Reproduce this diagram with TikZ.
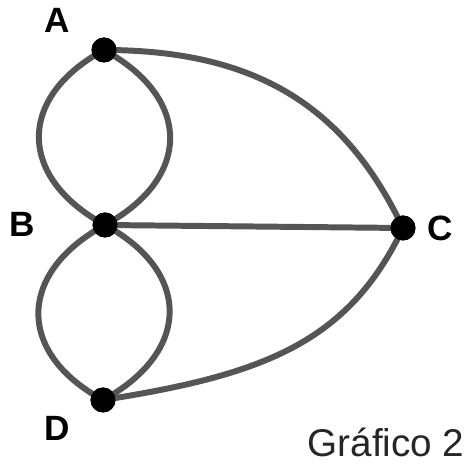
\documentclass[tikz,border=0pt]{standalone}
\usepackage{fontspec}
\setmainfont{Liberation Sans}
\usepackage{tikz}
\usepackage{xcolor}
\definecolor{edgegray}{HTML}{555555}

\begin{document}
\begin{tikzpicture}
\tikzset{
  vert/.style={circle,fill=black,inner sep=0pt,minimum size=0.5cm},
  lbl/.style={font=\fontsize{20}{24}\selectfont\bfseries},
  edge/.style={draw=edgegray,line width=3.4pt}
}
\useasboundingbox (0,0) rectangle (9.4,9.32);

\node[vert] (A) at (2.08,8.32) {};
\node[vert] (B) at (2.1,4.82) {};
\node[vert] (C) at (8.06,4.76) {};
\node[vert] (D) at (2.06,1.32) {};

\draw[edge] (A.center) .. controls +(-1.75,-0.95) and +(-1.75,0.95) .. (B.center);
\draw[edge] (A.center) .. controls +(1.75,-0.95) and +(1.75,0.95) .. (B.center);
\draw[edge] (B.center) .. controls +(-1.75,-0.95) and +(-1.75,0.95) .. (D.center);
\draw[edge] (B.center) .. controls +(1.75,-0.95) and +(1.75,0.95) .. (D.center);
\draw[edge] (A.center) .. controls +(3.2,0) and +(-1.1,2.3) .. (C.center);
\draw[edge] (D.center) .. controls +(3.2,0.5) and +(-1.1,-2.3) .. (C.center);
\draw[edge] (B.center) -- (C.center);

% dots on top of the edges
\node[vert] at (A) {};
\node[vert] at (B) {};
\node[vert] at (C) {};
\node[vert] at (D) {};

\node[lbl] (labA) at (1.14,8.92) {A};
\node[lbl] (labB) at (0.44,4.84) {B};
\node[lbl] (labC) at (8.8,4.76) {C};
\node[lbl] (labD) at (1.14,0.76) {D};
\node[font=\fontsize{22}{26}\selectfont,text=black!85] (cap) at (7.72,0.48) {Gráfico 2};
\end{tikzpicture}
\end{document}
